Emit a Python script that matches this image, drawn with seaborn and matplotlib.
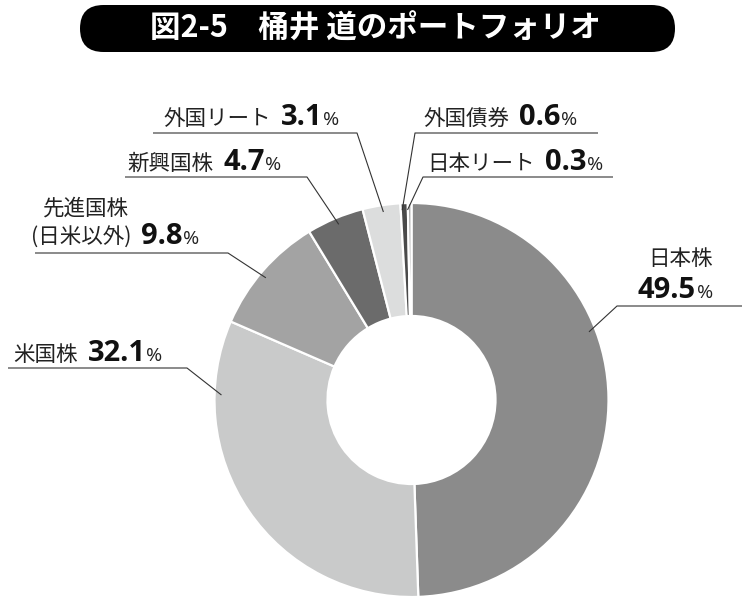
import numpy as np
import matplotlib
matplotlib.use("Agg")
import matplotlib.pyplot as plt
import seaborn as sns
from matplotlib.patches import FancyBboxPatch

sns.set_theme(style="white")
plt.rcParams['font.family'] = ['Noto Sans CJK JP', 'DejaVu Sans']

# ---- data ----
categories = ["日本株", "米国株", "先進国株", "新興国株", "外国リート", "外国債券", "日本リート"]
values = [49.5, 32.1, 9.8, 4.7, 3.1, 0.6, 0.3]
value_labels = ["49.5", "32.1", "9.8", "4.7", "3.1", "0.6", "0.3"]
title = "図2-5　桶井 道のポートフォリオ"

colors = ["#8b8b8b", "#c9caca", "#a3a3a3", "#6b6b6b", "#dcdddd", "#4a4a4a", "#a8a8a8"]

W, H = 750, 604
fig = plt.figure(figsize=(7.5, 6.04), dpi=100)
ax = fig.add_axes([0, 0, 1, 1])

def Y(y):
    return H - y

cx, cy, R, ring = 411.5, 400, 197, 113
ax.pie(values, colors=colors, startangle=90, counterclock=False,
       radius=R, center=(cx, Y(cy)),
       wedgeprops=dict(width=ring, edgecolor="white", linewidth=1.6))
ax.set_xlim(0, W)
ax.set_ylim(0, H)
ax.set_aspect("equal")
ax.axis("off")

# ---- title ----
box = FancyBboxPatch((80, Y(52)), 595, 47, boxstyle="round,pad=0,rounding_size=23.5",
                     facecolor="black", edgecolor="none")
ax.add_patch(box)
ax.text(375, Y(28.5), title, color="white", fontsize=22, fontweight="bold",
        ha="center", va="center")

# ---- labels & leaders (layout) ----
line_col = "#333333"
lab_fs, num_fs, pct_fs = 15.5, 21, 14
num_family = ['Open Sans', 'DejaVu Sans']
anchors = {
    "日本株": 21, "米国株": 178.5, "先進国株": 140, "新興国株": 112.5,
    "外国リート": 98.5, "外国債券": 92.8, "日本リート": 91.2,
}
elbows = {
    "日本株": ((617, 306), 742), "米国株": ((187, 368), 8),
    "先進国株": ((228, 253), 35), "新興国株": ((307, 177), 125),
    "外国リート": ((357, 133), 153), "外国債券": ((415, 133), 598),
    "日本リート": ((423, 177), 613),
}
for cat in categories:
    a = np.deg2rad(anchors[cat])
    r = R * 0.965
    ax_, ay_ = cx + r * np.cos(a), cy - r * np.sin(a)
    (ex, ey), x2 = elbows[cat]
    ax.plot([ax_, ex, x2], [Y(ay_), Y(ey), Y(ey)], color=line_col, lw=0.8,
            solid_capstyle="butt")

fig.canvas.draw()
renderer = fig.canvas.get_renderer()

def width_px(t):
    return t.get_window_extent(renderer=renderer).width

def row(x, base, label, num, gap=10):
    xs = x
    if label:
        t = ax.text(xs, Y(base), label, fontsize=lab_fs, ha="left", va="baseline", color="#222222")
        xs += width_px(t) + gap
    t = ax.text(xs, Y(base), num, fontsize=num_fs, fontweight="bold", ha="left",
                va="baseline", color="#111111", family=num_family)
    xs += width_px(t) + 0.5
    ax.text(xs, Y(base), "%", fontsize=pct_fs, ha="left", va="baseline", color="#222222",
            family=num_family)

vals = dict(zip(categories, value_labels))
row(163, 125, "外国リート", vals["外国リート"])
row(127, 170, "新興国株", vals["新興国株"])
ax.text(43, Y(215), "先進国株", fontsize=lab_fs, ha="left", va="baseline", color="#222222")
row(31, 244, "(日米以外)", vals["先進国株"], gap=9)
row(13, 361, "米国株", vals["米国株"])
row(423, 125, "外国債券", vals["外国債券"])
row(427, 170, "日本リート", vals["日本リート"])
ax.text(680, Y(265), "日本株", fontsize=lab_fs, ha="center", va="baseline", color="#222222")
row(638, 298, None, vals["日本株"])

fig.savefig("out.png", dpi=100)
